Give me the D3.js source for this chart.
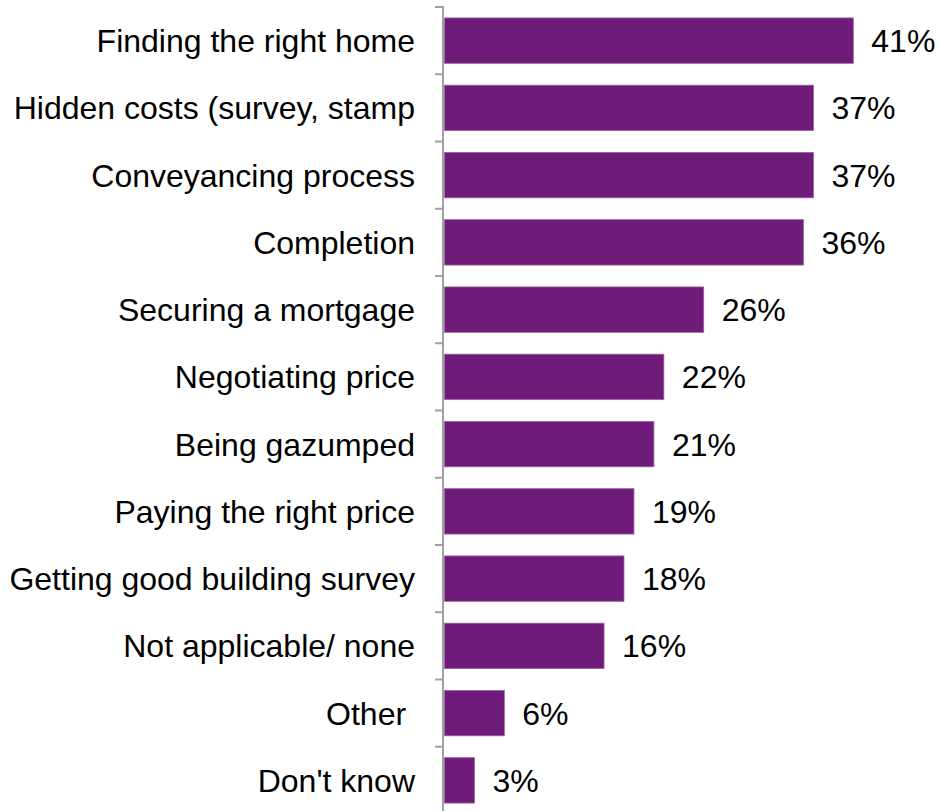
<!DOCTYPE html>
<html><head><meta charset="utf-8">
<script src="https://cdn.jsdelivr.net/npm/d3@7"></script>
<style>body{margin:0;background:#fff}svg{display:block}text{font-family:"Liberation Sans",Arial,sans-serif}</style>
</head><body>
<svg id="c" width="939" height="811"></svg>
<script>
const categories = ["Finding the right home","Hidden costs (survey, stamp","Conveyancing process","Completion","Securing a mortgage","Negotiating price","Being gazumped","Paying the right price","Getting good building survey","Not applicable/ none","Other ","Don't know"];
const values = [41,37,37,36,26,22,21,19,18,16,6,3];

(function(){
const svg = d3.select("#c");
const x0 = 444.5, band = 67.25, plotTop = 7;
const plotBottom = plotTop + band*categories.length;
const x = d3.scaleLinear().domain([0,41]).range([x0, 853.3]);
const y = d3.scaleBand().domain(categories).range([plotTop, plotBottom]).paddingInner(0.325).paddingOuter(0.1625);

// bars
svg.selectAll("rect.bar").data(values).join("rect")
  .attr("class","bar")
  .attr("x", x(0))
  .attr("y", (d,i)=>y(categories[i]))
  .attr("width", d=>x(d)-x(0))
  .attr("height", y.bandwidth())
  .attr("fill","#6e1b79")
  .attr("stroke","#9a63a0").attr("stroke-width",0.8);

// axis
const axisScale = d3.scaleBand().domain(categories).range([plotTop, plotBottom]);
const ax = svg.append("g").attr("transform",`translate(${x0-1.5},0)`)
  .call(d3.axisLeft(axisScale).tickSize(0).tickFormat(""));
ax.select(".domain").attr("stroke","#a0a0a0").attr("stroke-width",2)
  .attr("d",`M-8,${plotTop}H0V${plotBottom}H-8`).attr("fill","none");
const bounds = categories.map(c=>axisScale(c)).concat([plotBottom]);
ax.selectAll("line.tk").data(bounds).join("line").attr("class","tk")
  .attr("x1",-8).attr("x2",0).attr("y1",d=>d).attr("y2",d=>d)
  .attr("stroke","#a0a0a0").attr("stroke-width",2);

// category labels
svg.selectAll("text.cat").data(categories).join("text")
  .attr("class","cat")
  .attr("x", 415)
  .attr("y", d=>y(d)+y.bandwidth()/2)
  .attr("dy","0.36em")
  .attr("text-anchor","end")
  .style("white-space","pre")
  .attr("font-size",32)
  .attr("fill","#000")
  .text(d=>d);

// value labels
svg.selectAll("text.val").data(values).join("text")
  .attr("class","val")
  .attr("x", d=>x(d)+18)
  .attr("y", (d,i)=>y(categories[i])+y.bandwidth()/2)
  .attr("dy","0.36em")
  .attr("font-size",32)
  .attr("fill","#000")
  .text(d=>d+"%");
})();
</script>
</body></html>
